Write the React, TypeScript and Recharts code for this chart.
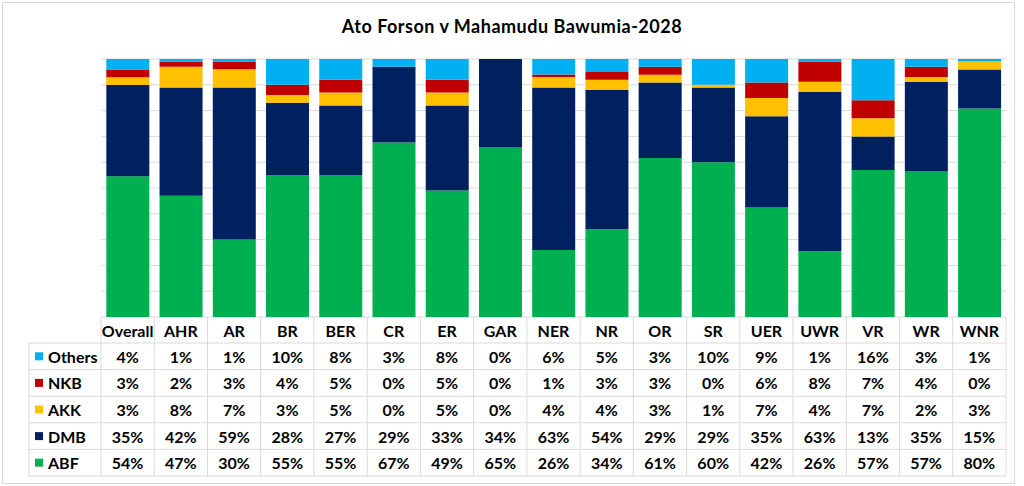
import { BarChart, Bar, XAxis, YAxis, CartesianGrid } from "recharts";

const categories = ["Overall", "AHR", "AR", "BR", "BER", "CR", "ER", "GAR", "NER", "NR", "OR", "SR", "UER", "UWR", "VR", "WR", "WNR"];
const others = [4, 1, 1, 10, 8, 3, 8, 0, 6, 5, 3, 10, 9, 1, 16, 3, 1];
const nkb = [3, 2, 3, 4, 5, 0, 5, 0, 1, 3, 3, 0, 6, 8, 7, 4, 0];
const akk = [3, 8, 7, 3, 5, 0, 5, 0, 4, 4, 3, 1, 7, 4, 7, 2, 3];
const dmb = [35, 42, 59, 28, 27, 29, 33, 34, 63, 54, 29, 29, 35, 63, 13, 35, 15];
const abf = [54, 47, 30, 55, 55, 67, 49, 65, 26, 34, 61, 60, 42, 26, 57, 57, 80];
const yTicks = [0, 0.1, 0.2, 0.3, 0.4, 0.5, 0.6, 0.7, 0.8, 0.9, 1];

// table rows, top to bottom as in the data table
const series = [
    { key: "Others", color: "#00B0F0", values: others },
    { key: "NKB", color: "#C00000", values: nkb },
    { key: "AKK", color: "#FFC000", values: akk },
    { key: "DMB", color: "#002060", values: dmb },
    { key: "ABF", color: "#00B050", values: abf },
];

const data = categories.map((name, i) => ({
    name,
    ABF: abf[i],
    DMB: dmb[i],
    AKK: akk[i],
    NKB: nkb[i],
    Others: others[i],
}));

const W = 1024;
const H = 486;
const M = { top: 59, right: 18, left: 101, bottom: 9 };
const AXIS_H = 160;
const COL_W = (W - M.left - M.right) / categories.length;
const HEAD_H = 26;
const ROW_H = 26.6;
const LABEL_LEFT = 29;
const GRID = "#D9D9D9";
const FONT = "Lato, 'Open Sans', sans-serif";

function TableTick(props: any) {
    const { x, y, payload } = props;
    const i = payload.index;
    const l = x - COL_W / 2;
    const r = x + COL_W / 2;
    const bottom = y + HEAD_H + ROW_H * series.length;
    return (
        <g fontFamily={FONT} fontWeight={700} fontSize={16} fill="#000">
            <text x={x} y={y + HEAD_H / 2} textAnchor="middle" dominantBaseline="central">
                {payload.value}
            </text>
            {series.map((s, k) => {
                const top = y + HEAD_H + ROW_H * k;
                return (
                    <g key={s.key}>
                        <line x1={l} x2={r} y1={top} y2={top} stroke={GRID} />
                        <text x={x} y={top + ROW_H / 2} textAnchor="middle" dominantBaseline="central">
                            {s.values[i]}%
                        </text>
                    </g>
                );
            })}
            <line x1={l} x2={r} y1={bottom} y2={bottom} stroke={GRID} />
            <line x1={r} x2={r} y1={y} y2={bottom} stroke={GRID} />
            {i === 0 && (
                <g>
                    <line x1={l} x2={l} y1={y} y2={bottom} stroke={GRID} />
                    <line x1={LABEL_LEFT} x2={LABEL_LEFT} y1={y + HEAD_H} y2={bottom} stroke={GRID} />
                    {series.map((s, k) => {
                        const top = y + HEAD_H + ROW_H * k;
                        return (
                            <g key={s.key}>
                                <line x1={LABEL_LEFT} x2={l} y1={top} y2={top} stroke={GRID} />
                                <rect x={35} y={top + ROW_H / 2 - 4} width={8} height={8} fill={s.color} />
                                <text x={48} y={top + ROW_H / 2} dominantBaseline="central">
                                    {s.key}
                                </text>
                            </g>
                        );
                    })}
                    <line x1={LABEL_LEFT} x2={l} y1={bottom} y2={bottom} stroke={GRID} />
                </g>
            )}
        </g>
    );
}

export default function App() {
    return (
        <div style={{ position: "absolute", left: 0, top: 0, width: W, height: H, background: "#fff" }}>
            <div
                style={{
                    position: "absolute",
                    left: 2,
                    top: 2,
                    width: 1013,
                    height: 482,
                    border: "1px solid #D9D9D9",
                    boxSizing: "border-box",
                }}
            />
            <div
                style={{
                    position: "absolute",
                    left: 0,
                    top: 15,
                    width: W,
                    textAlign: "center",
                    fontFamily: FONT,
                    fontWeight: 700,
                    fontSize: 18,
                    letterSpacing: 0.5,
                    color: "#000",
                }}
            >
                Ato Forson v Mahamudu Bawumia-2028
            </div>
            <div style={{ position: "absolute", left: 0, top: 0 }}>
                <BarChart width={W} height={H} data={data} margin={M} stackOffset="expand" barCategoryGap="10%">
                    <CartesianGrid vertical={false} stroke={GRID} />
                    <XAxis
                        dataKey="name"
                        height={AXIS_H}
                        interval={0}
                        tickSize={0}
                        tickMargin={0}
                        axisLine={false}
                        tickLine={false}
                        tick={<TableTick />}
                    />
                    <YAxis hide domain={[0, 1]} ticks={yTicks} />
                    <Bar dataKey="ABF" stackId="a" fill="#00B050" isAnimationActive={false} />
                    <Bar dataKey="DMB" stackId="a" fill="#002060" isAnimationActive={false} />
                    <Bar dataKey="AKK" stackId="a" fill="#FFC000" isAnimationActive={false} />
                    <Bar dataKey="NKB" stackId="a" fill="#C00000" isAnimationActive={false} />
                    <Bar dataKey="Others" stackId="a" fill="#00B0F0" isAnimationActive={false} />
                </BarChart>
            </div>
        </div>
    );
}
